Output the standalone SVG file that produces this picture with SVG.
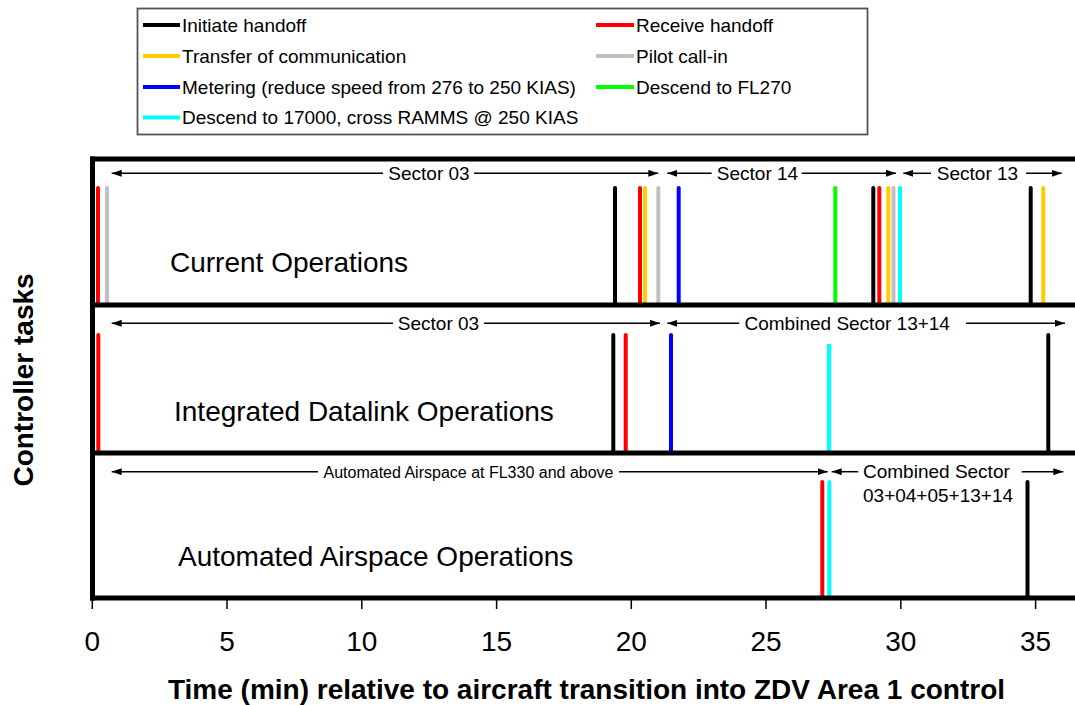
<svg xmlns="http://www.w3.org/2000/svg" width="1075" height="705" viewBox="0 0 1075 705">
  <style>
    text { font-family: "Liberation Sans", Arial, sans-serif; fill: #000; }
    .leg { font-size: 19px; }
    .sec { font-size: 19px; }
    .small { font-size: 16px; }
    .panel { font-size: 28px; }
    .tick { font-size: 28px; text-anchor: middle; }
    .title { font-size: 28px; font-weight: bold; text-anchor: middle; }
    .frame { stroke: #000; stroke-width: 5; fill: none; }
    .span { stroke: #000; stroke-width: 1.5; fill: none; }
    .bar { stroke-width: 4; stroke-linecap: round; fill: none; }
    .k { stroke: #000000; }
    .r { stroke: #FF0000; }
    .y { stroke: #FFCC00; }
    .g { stroke: #C0C0C0; }
    .b { stroke: #0000FF; }
    .gr { stroke: #00FF00; }
    .c { stroke: #00FFFF; }
  </style>
  <defs>
    <marker id="arrow" viewBox="0 0 10 7" refX="10" refY="3.5" markerWidth="10" markerHeight="7" markerUnits="userSpaceOnUse" orient="auto-start-reverse">
      <path d="M0,0 L10,3.5 L0,7 z" fill="#000"/>
    </marker>
  </defs>
  <rect width="1075" height="705" fill="#fff"/>

  <!-- legend -->
  <g id="legend">
    <rect x="137.5" y="8.5" width="730" height="126" fill="#fff" stroke="#555" stroke-width="1.8"/>
    <g class="bar" style="stroke-linecap:butt">
      <line class="k" x1="143" y1="25" x2="180" y2="25"/>
      <line class="y" x1="143" y1="56" x2="180" y2="56"/>
      <line class="b" x1="143" y1="87" x2="180" y2="87"/>
      <line class="c" x1="143" y1="117.5" x2="180" y2="117.5"/>
      <line class="r" x1="596" y1="25" x2="634" y2="25"/>
      <line class="g" x1="596" y1="56" x2="634" y2="56"/>
      <line class="gr" x1="596" y1="87" x2="634" y2="87"/>
    </g>
    <text class="leg" x="182" y="31.7">Initiate handoff</text>
    <text class="leg" x="182" y="63">Transfer of communication</text>
    <text class="leg" x="182" y="93.5">Metering (reduce speed from 276 to 250 KIAS)</text>
    <text class="leg" x="182" y="124">Descend to 17000, cross RAMMS @ 250 KIAS</text>
    <text class="leg" x="636" y="31.7">Receive handoff</text>
    <text class="leg" x="636" y="63">Pilot call-in</text>
    <text class="leg" x="636" y="93.5">Descend to FL270</text>
  </g>

  <!-- panel 1: current operations -->
  <g id="current-ops">
    <g class="bar">
      <line class="r" x1="98" y1="188" x2="98" y2="305"/>
      <line class="g" x1="107" y1="188" x2="107" y2="305"/>
      <line class="k" x1="615" y1="188" x2="615" y2="305"/>
      <line class="r" x1="640" y1="188" x2="640" y2="305"/>
      <line class="y" x1="645" y1="188" x2="645" y2="305"/>
      <line class="g" x1="658.3" y1="188" x2="658.3" y2="305"/>
      <line class="b" x1="678.7" y1="188" x2="678.7" y2="305"/>
      <line class="gr" x1="835.3" y1="188" x2="835.3" y2="305"/>
      <line class="k" x1="873.3" y1="188" x2="873.3" y2="305"/>
      <line class="r" x1="879.3" y1="188" x2="879.3" y2="305"/>
      <line class="y" x1="888.3" y1="188" x2="888.3" y2="305"/>
      <line class="g" x1="893.5" y1="188" x2="893.5" y2="305"/>
      <line class="c" x1="900" y1="188" x2="900" y2="305"/>
      <line class="k" x1="1030.7" y1="188" x2="1030.7" y2="305"/>
      <line class="y" x1="1043.3" y1="188" x2="1043.3" y2="305"/>
    </g>
    <text class="panel" x="170" y="271.5">Current Operations</text>
  </g>

  <!-- panel 2: integrated datalink operations -->
  <g id="datalink-ops">
    <g class="bar">
      <line class="r" x1="98.3" y1="335" x2="98.3" y2="453"/>
      <line class="k" x1="613.3" y1="335" x2="613.3" y2="453"/>
      <line class="r" x1="625.7" y1="335" x2="625.7" y2="453"/>
      <line class="b" x1="671" y1="335" x2="671" y2="453"/>
      <line class="c" x1="829" y1="344" x2="829" y2="453" style="stroke-linecap:butt;stroke-width:4.3"/>
      <line class="k" x1="1048.3" y1="335" x2="1048.3" y2="453"/>
    </g>
    <text class="panel" x="174" y="421">Integrated Datalink Operations</text>
  </g>

  <!-- panel 3: automated airspace operations -->
  <g id="automated-ops">
    <g class="bar">
      <line class="r" x1="822.3" y1="482" x2="822.3" y2="598"/>
      <line class="c" x1="829.3" y1="482" x2="829.3" y2="598"/>
      <line class="k" x1="1027.5" y1="482" x2="1027.5" y2="598"/>
    </g>
    <text class="panel" x="178" y="565.5">Automated Airspace Operations</text>
  </g>

  <!-- sector spans -->
  <g id="connectors">
    <line class="span" x1="111.7" y1="173.3" x2="383" y2="173.3" marker-start="url(#arrow)"/>
    <line class="span" x1="474" y1="173.3" x2="658.3" y2="173.3" marker-end="url(#arrow)"/>
    <line class="span" x1="667.3" y1="173.3" x2="711.7" y2="173.3" marker-start="url(#arrow)"/>
    <line class="span" x1="801.7" y1="173.3" x2="896" y2="173.3" marker-end="url(#arrow)"/>
    <line class="span" x1="903.3" y1="173.3" x2="931" y2="173.3" marker-start="url(#arrow)"/>
    <line class="span" x1="1026" y1="173.3" x2="1061.7" y2="173.3" marker-end="url(#arrow)"/>

    <line class="span" x1="111.7" y1="323.3" x2="393" y2="323.3" marker-start="url(#arrow)"/>
    <line class="span" x1="484" y1="323.3" x2="660" y2="323.3" marker-end="url(#arrow)"/>
    <line class="span" x1="667.3" y1="323.3" x2="739.3" y2="323.3" marker-start="url(#arrow)"/>
    <line class="span" x1="966" y1="323.3" x2="1065" y2="323.3" marker-end="url(#arrow)"/>

    <line class="span" x1="111.7" y1="471.7" x2="318" y2="471.7" marker-start="url(#arrow)"/>
    <line class="span" x1="619" y1="471.7" x2="827.7" y2="471.7" marker-end="url(#arrow)"/>
    <line class="span" x1="831.7" y1="471.7" x2="858.3" y2="471.7" marker-start="url(#arrow)"/>
    <line class="span" x1="1021.7" y1="471.7" x2="1063.3" y2="471.7" marker-end="url(#arrow)"/>
  </g>
  <g id="sector-labels">
    <text class="sec" x="429" y="180" text-anchor="middle">Sector 03</text>
    <text class="sec" x="757.5" y="180" text-anchor="middle">Sector 14</text>
    <text class="sec" x="977.5" y="180" text-anchor="middle">Sector 13</text>
    <text class="sec" x="438.5" y="330" text-anchor="middle">Sector 03</text>
    <text class="sec" x="744.5" y="330">Combined Sector 13+14</text>
    <text class="small" x="468.5" y="477.5" text-anchor="middle">Automated Airspace at FL330 and above</text>
    <text class="sec" x="863" y="477.5">Combined Sector</text>
    <text class="sec" x="863" y="502">03+04+05+13+14</text>
  </g>

  <!-- frame and time axis -->
  <g id="frame">
    <line class="frame" x1="90" y1="159" x2="1075" y2="159"/>
    <line class="frame" x1="90" y1="305" x2="1075" y2="305"/>
    <line class="frame" x1="90" y1="453" x2="1075" y2="453"/>
    <line class="frame" x1="90" y1="598" x2="1075" y2="598"/>
    <line class="frame" x1="92.5" y1="156.5" x2="92.5" y2="600.5"/>
  </g>
  <g id="axis">
    <g stroke="#000" stroke-width="1.5">
      <line x1="92.3" y1="598" x2="92.3" y2="609"/>
      <line x1="227" y1="598" x2="227" y2="609"/>
      <line x1="361.8" y1="598" x2="361.8" y2="609"/>
      <line x1="496.6" y1="598" x2="496.6" y2="609"/>
      <line x1="631.3" y1="598" x2="631.3" y2="609"/>
      <line x1="766" y1="598" x2="766" y2="609"/>
      <line x1="900.8" y1="598" x2="900.8" y2="609"/>
      <line x1="1035.6" y1="598" x2="1035.6" y2="609"/>
    </g>
    <text class="tick" x="92.3" y="651">0</text>
    <text class="tick" x="227" y="651">5</text>
    <text class="tick" x="361.8" y="651">10</text>
    <text class="tick" x="496.6" y="651">15</text>
    <text class="tick" x="631.3" y="651">20</text>
    <text class="tick" x="766" y="651">25</text>
    <text class="tick" x="900.8" y="651">30</text>
    <text class="tick" x="1035.6" y="651">35</text>
    <text class="title" x="586.5" y="699">Time (min) relative to aircraft transition into ZDV Area 1 control</text>
    <text class="title" transform="translate(33.3,380) rotate(-90)">Controller tasks</text>
  </g>
</svg>
